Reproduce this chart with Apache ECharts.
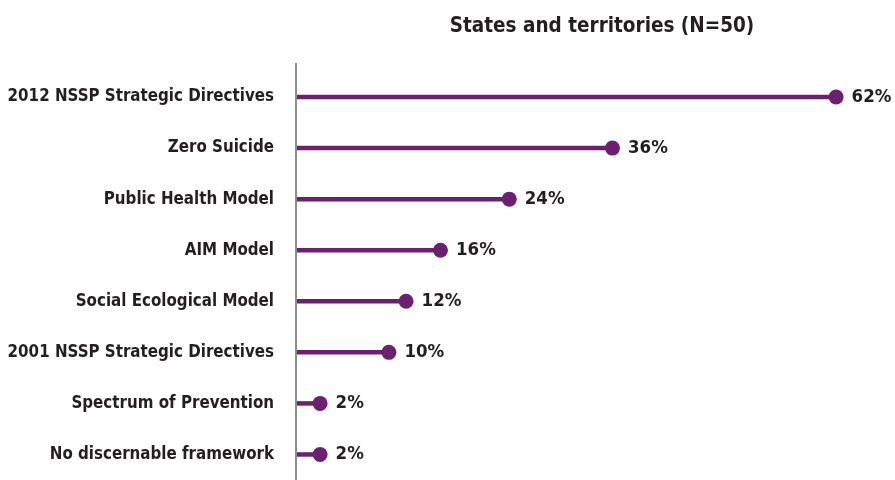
<!DOCTYPE html>
<html>
<head>
<meta charset="utf-8">
<script src="https://cdn.jsdelivr.net/npm/echarts@6/dist/echarts.min.js"></script>
<style>
  html, body { margin: 0; padding: 0; background: #fff; }
  #chart { width: 895px; height: 480px; }
</style>
</head>
<body>
<div id="chart"></div>
<script>
// Strategic frameworks cited by state and territory plans
const categories = [
  '2012 NSSP Strategic Directives',
  'Zero Suicide',
  'Public Health Model',
  'AIM Model',
  'Social Ecological Model',
  '2001 NSSP Strategic Directives',
  'Spectrum of Prevention',
  'No discernable framework'
];
const percents = [62, 36, 24, 16, 12, 10, 2, 2];
const chartTitle = 'States and territories (N=50)';

const FONT = '"DejaVu Sans Condensed", "Liberation Sans Narrow", sans-serif';
const PURPLE = '#6b2170';
const TEXT = '#231f20';
const AXIS_GREY = '#8f8b8b';
const X_MIN = -0.8;

const chart = echarts.init(document.getElementById('chart'));

chart.setOption({
  animation: false,
  title: {
    text: chartTitle,
    left: 597,
    textAlign: 'center',
    top: 11,
    textStyle: { fontFamily: FONT, fontWeight: 'bold', fontSize: 20.5, color: TEXT }
  },
  grid: {
    left: 296, right: 7.3, top: 71.5, bottom: 0,
    containLabel: false,
    outerBoundsMode: 'none'
  },
  xAxis: {
    type: 'value',
    min: X_MIN,
    max: 68,
    show: false
  },
  yAxis: {
    type: 'category',
    data: categories,
    inverse: true,
    axisLine: { show: true, onZero: false, lineStyle: { color: AXIS_GREY, width: 2 } },
    axisTick: { show: false },
    axisLabel: {
      margin: 22,
      fontFamily: FONT,
      fontWeight: 'bold',
      fontSize: 16.8,
      color: TEXT
    }
  },
  graphic: [{
    type: 'line',
    shape: { x1: 296, y1: 63, x2: 296, y2: 72 },
    style: { stroke: AXIS_GREY, lineWidth: 2 }
  }],
  series: [
    {
      // stems drawn from the axis out to each value
      type: 'custom',
      data: percents.map((v, i) => [v, i]),
      renderItem: function (params, api) {
        const idx = api.value(1);
        const start = api.coord([X_MIN, idx]);
        const end = api.coord([api.value(0), idx]);
        return {
          type: 'line',
          shape: { x1: start[0] + 1, y1: start[1], x2: end[0], y2: end[1] },
          style: { stroke: PURPLE, lineWidth: 4.5 }
        };
      },
      z: 2
    },
    {
      type: 'scatter',
      data: percents.map((v, i) => [v, i]),
      symbol: 'circle',
      symbolSize: 15,
      itemStyle: { color: PURPLE, opacity: 1 },
      label: {
        show: true,
        position: 'right',
        distance: 8,
        formatter: p => p.value[0] + '%',
        fontFamily: FONT,
        fontWeight: 'bold',
        fontSize: 18.5,
        color: TEXT
      },
      z: 3
    }
  ]
});
</script>
</body>
</html>
